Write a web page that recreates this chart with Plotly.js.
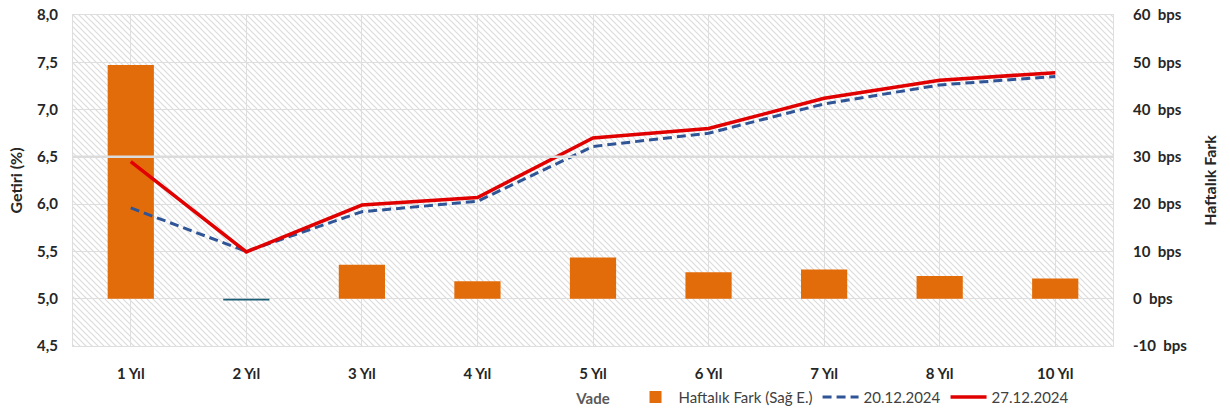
<!DOCTYPE html>
<html>
<head>
<meta charset="utf-8">
<script src="https://cdn.plot.ly/plotly-3.0.1.min.js"></script>
<style>
html,body{margin:0;padding:0;background:#fff;}
#chart{width:1230px;height:412px;}
</style>
</head>
<body>
<div id="chart"></div>
<script>
// ---- data ----
const categories = ['1 Yıl','2 Yıl','3 Yıl','4 Yıl','5 Yıl','6 Yıl','7 Yıl','8 Yıl','10 Yıl'];
const weeklyDiffBps = [49.4, -0.4, 7.2, 3.7, 8.7, 5.6, 6.2, 4.8, 4.3];
const yield20Dec = [5.96, 5.50, 5.92, 6.03, 6.61, 6.75, 7.06, 7.26, 7.35];
const yield27Dec = [6.45, 5.495, 5.99, 6.07, 6.70, 6.80, 7.12, 7.31, 7.39];
const seriesNames = ['Haftalık Fark (Sağ E.)', '20.12.2024', '27.12.2024'];
const rightTickVals = [-10, 0, 10, 20, 30, 40, 50, 60];
const rightTickText = ['-10\u00a0\u00a0bps','0\u00a0\u00a0bps','10\u00a0\u00a0bps','20\u00a0\u00a0bps','30\u00a0\u00a0bps','40\u00a0\u00a0bps','50\u00a0\u00a0bps','60\u00a0\u00a0bps'];

// ---- style ----
const FONT = 'Lato, "Open Sans", "Liberation Sans", sans-serif';
const TXT = '#262626';
const GRID = '#dedede';
const M = {l: 73, r: 117, t: 15, b: 66, autoexpand: false};
const W = 1230, H = 412;
const pw = W - M.l - M.r, ph = H - M.t - M.b;

const svg = '<svg xmlns="http://www.w3.org/2000/svg" width="' + pw + '" height="' + ph + '">' +
  '<defs><pattern id="p" patternUnits="userSpaceOnUse" width="6" height="6">' +
  '<rect width="6" height="6" fill="#ffffff"/>' +
  '<path d="M-1,-1 L7,7 M-1,5 L1,7 M5,-1 L7,1" stroke="#dcdcdc" stroke-width="1.2"/>' +
  '</pattern></defs><rect width="' + pw + '" height="' + ph + '" fill="url(#p)"/></svg>';
const bgImg = 'data:image/svg+xml;charset=utf-8,' + encodeURIComponent(svg);

const barColors = weeklyDiffBps.map(v => v < 0 ? '#1b5e76' : '#e36c0a');

const traces = [
  {
    type: 'bar', name: seriesNames[0], x: categories, y: weeklyDiffBps,
    xaxis: 'x', yaxis: 'y', width: 0.4,
    marker: {color: barColors, line: {width: 0}}
  },
  {
    type: 'scatter', mode: 'lines', name: seriesNames[1], x: categories, y: yield20Dec,
    xaxis: 'x', yaxis: 'y2',
    line: {color: '#2f5597', width: 3, dash: '9px,5px'}
  },
  {
    type: 'scatter', mode: 'lines', name: seriesNames[2], x: categories, y: yield27Dec,
    xaxis: 'x', yaxis: 'y2',
    line: {color: '#e00000', width: 3.5}
  }
];

const layout = {
  width: W, height: H,
  margin: M,
  paper_bgcolor: '#ffffff',
  plot_bgcolor: '#ffffff',
  separators: ',.',
  font: {family: FONT, size: 15, color: TXT},
  showlegend: true,
  legend: {
    orientation: 'h', x: 0.538, xanchor: 'left', y: -0.155, yanchor: 'middle',
    font: {family: FONT, size: 15, color: '#404040'},
    bgcolor: 'rgba(0,0,0,0)', traceorder: 'normal', itemwidth: 36
  },
  images: [{
    source: bgImg, xref: 'paper', yref: 'paper', x: 0, y: 1, sizex: 1, sizey: 1,
    sizing: 'stretch', xanchor: 'left', yanchor: 'top', layer: 'below'
  }],
  xaxis: {
    type: 'category', categoryorder: 'array', categoryarray: categories,
    range: [-0.5, categories.length - 0.5],
    showgrid: true, gridcolor: GRID, gridwidth: 1,
    showline: true, linecolor: GRID, mirror: true,
    ticks: '', ticklabelstandoff: 14,
    tickfont: {family: FONT, size: 15, color: TXT, weight: 'bold'},
    title: {text: 'Vade', standoff: 12, font: {family: FONT, size: 15, color: '#595959', weight: 'bold'}},
    zeroline: false, automargin: false, fixedrange: true
  },
  xaxis2: {
    type: 'category', categoryorder: 'array', categoryarray: categories,
    range: [-0.5, categories.length - 0.5],
    overlaying: 'x', anchor: 'y', side: 'bottom', tickson: 'boundaries',
    showgrid: true, gridcolor: GRID, gridwidth: 1,
    showticklabels: false, ticks: '', showline: false, zeroline: false
  },
  yaxis: {
    side: 'right', range: [-10, 60],
    tickmode: 'array', tickvals: rightTickVals, ticktext: rightTickText,
    showgrid: true, gridcolor: GRID, gridwidth: 1,
    showline: true, linecolor: GRID, mirror: true,
    zeroline: false, ticks: '', ticklabelstandoff: 16,
    tickfont: {family: FONT, size: 15, color: TXT, weight: 'bold'},
    title: {text: 'Haftalık Fark', standoff: 18, font: {family: FONT, size: 16, color: TXT, weight: 'bold'}},
    automargin: false, fixedrange: true
  },
  yaxis2: {
    side: 'left', overlaying: 'y', range: [4.5, 8.0], dtick: 0.5, tick0: 4.5,
    tickformat: '.1f', showgrid: false, zeroline: false, showline: false, ticks: '',
    ticklabelstandoff: 14,
    tickfont: {family: FONT, size: 15, color: TXT, weight: 'bold'},
    title: {text: 'Getiri (%)', standoff: 10, font: {family: FONT, size: 16, color: TXT, weight: 'bold'}},
    automargin: false, fixedrange: true
  },
  shapes: [{
    type: 'line', xref: 'paper', x0: 0, x1: 1, yref: 'y2', y0: 6.5, y1: 6.5,
    line: {color: '#dcdcdc', width: 2.5}, layer: 'above'
  }]
};

Plotly.newPlot('chart', traces, layout, {displayModeBar: false, staticPlot: true});
</script>
</body>
</html>
